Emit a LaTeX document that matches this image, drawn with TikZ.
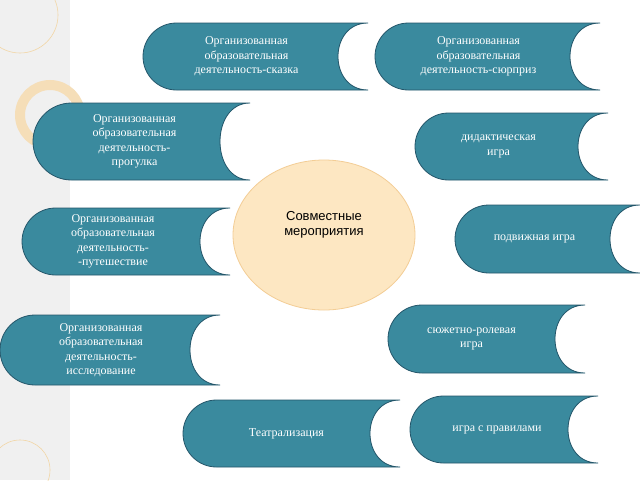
\documentclass[tikz,border=0pt]{standalone}
\usepackage{fontspec}
\usetikzlibrary{shapes.geometric}
\setmainfont{Liberation Serif}
\newfontfamily\sansf{Liberation Sans}
\begin{document}
\begin{tikzpicture}[x=1pt,y=-1pt,
  tab/.style={fill=tealc,draw=tealb,line width=0.8pt},
  lbl/.style={text=white,align=center,font=\fontsize{12}{14.5}\selectfont,inner sep=0pt}]
\definecolor{tealc}{HTML}{3A8A9E}
\definecolor{tealb}{HTML}{24566A}
\definecolor{peach}{HTML}{FDE7C2}
\definecolor{ringc}{HTML}{F2D6A6}
\useasboundingbox (0,0) rectangle (640,480);
\fill[white] (0,0) rectangle (640,480);
\fill[black!6] (0,0) rectangle (70,480);
\draw[ringc,line width=0.6pt] (20,15) circle (38);
\draw[ringc!80,line width=10pt] (50,115) circle (30);
\draw[ringc,line width=0.6pt] (20,470) circle (30);
\newcommand{\tabshape}[5]{% x0 y0 x1 y1 name
  \pgfmathsetmacro{\r}{(#4-#2)/2}
  \draw[tab] (#1+\r,#2) -- (#3,#2) .. controls (#3-40,#2) and (#3-40,#4) .. (#3,#4)
    -- (#1+\r,#4) arc[start angle=90,end angle=270,radius=\r] -- cycle;
  \coordinate (#5) at ({(#1+#3-30)/2},{(#2+#4)/2});
}
\tabshape{143}{23}{368}{90}{a}
\tabshape{375}{23}{600}{90}{b}
\tabshape{33}{103}{250}{180}{c}
\tabshape{415}{113}{608}{180}{d}
\tabshape{22}{208}{230}{275}{e}
\tabshape{455}{205}{640}{273}{f}
\tabshape{0}{315}{220}{385}{g}
\tabshape{388}{305}{585}{373}{h}
\tabshape{183}{400}{400}{467}{i}
\tabshape{410}{396}{598}{463}{j}
\node[lbl] (ta) at ([xshift=6]a) {Организованная\\образовательная\\деятельность-сказка};
\node[lbl] (tb) at ([xshift=6]b) {Организованная\\образовательная\\деятельность-сюрприз};
\node[lbl] (tc) at ([xshift=8]c) {Организованная\\образовательная\\деятельность-\\прогулка};
\node[lbl] (td) at ([xshift=2]d) {дидактическая\\игра};
\node[lbl] (te) at ([xshift=2]e) {Организованная\\образовательная\\деятельность-\\-путешествие};
\node[lbl] (tf) at ([xshift=2]f) {подвижная игра};
\node[lbl] (tg) at ([xshift=6]g) {Организованная\\образовательная\\деятельность-\\исследование};
\node[lbl] (th) at (h) {сюжетно-ролевая\\игра};
\node[lbl] (ti) at ([xshift=10]i) {Театрализация};
\node[lbl] (tj) at ([xshift=8]j) {игра с правилами};
\node[ellipse,minimum width=182pt,minimum height=150pt,fill=peach,draw=ringc!90!orange,line width=0.8pt,
  align=center,font=\sansf\fontsize{13}{15.5}\selectfont,inner sep=0pt] (m) at (324,235) {Совместные\\мероприятия\\[8pt]};
\end{tikzpicture}
\end{document}
